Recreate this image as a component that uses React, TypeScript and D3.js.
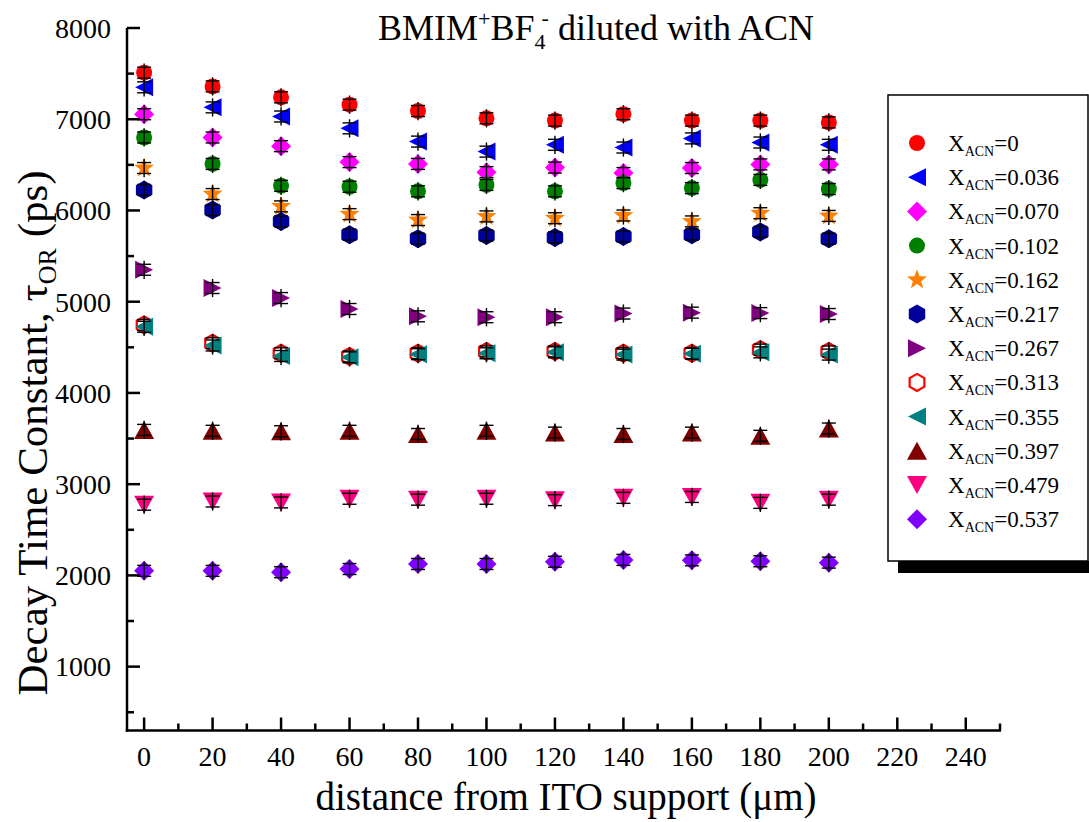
import React from 'react';
import * as d3 from 'd3';

const distances = [0, 20, 40, 60, 80, 100, 120, 140, 160, 180, 200];
const xAcnLabels = ['0', '0.036', '0.070', '0.102', '0.162', '0.217', '0.267', '0.313', '0.355', '0.397', '0.479', '0.537'];

const tauX0 = [7510, 7360, 7240, 7160, 7090, 7010, 6985, 7055, 6985, 6985, 6965];
const tauX036 = [7350, 7130, 7030, 6900, 6755, 6645, 6720, 6690, 6790, 6745, 6720];
const tauX070 = [7055, 6800, 6705, 6530, 6510, 6420, 6470, 6410, 6465, 6505, 6505];
const tauX102 = [6800, 6510, 6270, 6260, 6210, 6280, 6210, 6300, 6245, 6335, 6235];
const tauX162 = [6465, 6180, 6045, 5960, 5895, 5935, 5915, 5945, 5880, 5970, 5940];
const tauX217 = [6225, 6005, 5880, 5735, 5690, 5725, 5705, 5715, 5735, 5765, 5690];
const tauX267 = [5350, 5150, 5040, 4920, 4840, 4830, 4830, 4870, 4880, 4875, 4865];
const tauX313 = [4745, 4545, 4435, 4400, 4435, 4455, 4455, 4435, 4435, 4475, 4455];
const tauX355 = [4725, 4520, 4405, 4390, 4425, 4435, 4445, 4420, 4430, 4445, 4420];
const tauX397 = [3595, 3585, 3580, 3585, 3550, 3585, 3565, 3550, 3565, 3530, 3610];
const tauX479 = [2775, 2810, 2800, 2840, 2830, 2840, 2825, 2850, 2860, 2795, 2830];
const tauX537 = [2050, 2050, 2035, 2070, 2125, 2125, 2150, 2170, 2165, 2155, 2140];

const errCap = 60;
const errStem = 100;

const xTicksMajor = [0, 20, 40, 60, 80, 100, 120, 140, 160, 180, 200, 220, 240];
const xTicksMinor = [10, 30, 50, 70, 90, 110, 130, 150, 170, 190, 210, 230, 250];
const yTicksMajor = [1000, 2000, 3000, 4000, 5000, 6000, 7000, 8000];
const yTicksMinor = [500, 1500, 2500, 3500, 4500, 5500, 6500, 7500];

const seriesValues = [tauX0, tauX036, tauX070, tauX102, tauX162, tauX217, tauX267, tauX313, tauX355, tauX397, tauX479, tauX537];
const seriesShapes = ['circle', 'triLeft', 'diamond', 'circle', 'star', 'hexagon', 'triRight', 'hexOpen', 'triLeft', 'triUp', 'triDown', 'diamond'];
const seriesColors = ['#FF0000', '#0000FF', '#FF00FF', '#008000', '#FF8000', '#00009A', '#800080', '#FF0000', '#008080', '#800000', '#FF0080', '#8000FF'];

const FONT = '"Liberation Serif", "Times New Roman", serif';

const x = d3.scaleLinear().domain([-5, 250]).range([127, 1000]);
const y = d3.scaleLinear().domain([300, 8000]).range([730.5, 28]);

function markerPath(shape: string): string {
  const r = 9;
  switch (shape) {
    case 'circle':
      return d3.symbol(d3.symbolCircle, Math.PI * 8 * 8)() as string;
    case 'triLeft':
      return `M${-r},0L${r},${-r}L${r},${r}Z`;
    case 'triRight':
      return `M${r},0L${-r},${-r}L${-r},${r}Z`;
    case 'triUp':
      return `M0,${-r}L${r + 1},${r}L${-r - 1},${r}Z`;
    case 'triDown':
      return `M0,${r}L${r + 1},${-r}L${-r - 1},${-r}Z`;
    case 'diamond':
      return `M0,-10L10,0L0,10L-10,0Z`;
    case 'star': {
      const pts: string[] = [];
      for (let i = 0; i < 10; i++) {
        const rad = i % 2 === 0 ? 10.5 : 4.3;
        const a = -Math.PI / 2 + (i * Math.PI) / 5;
        pts.push(`${(rad * Math.cos(a)).toFixed(2)},${(rad * Math.sin(a)).toFixed(2)}`);
      }
      return 'M' + pts.join('L') + 'Z';
    }
    case 'hexagon':
    case 'hexOpen': {
      const rr = shape === 'hexOpen' ? 8.5 : 9.5;
      const pts: string[] = [];
      for (let i = 0; i < 6; i++) {
        const a = -Math.PI / 2 + (i * Math.PI) / 3;
        pts.push(`${(rr * Math.cos(a)).toFixed(2)},${(rr * Math.sin(a)).toFixed(2)}`);
      }
      return 'M' + pts.join('L') + 'Z';
    }
  }
  return '';
}

function Marker({ shape, color, cx, cy }: { shape: string; color: string; cx: number; cy: number }) {
  const open = shape === 'hexOpen';
  return (
    <path
      d={markerPath(shape)}
      transform={`translate(${cx},${cy})`}
      fill={open ? 'none' : color}
      stroke={open ? color : 'none'}
      strokeWidth={open ? 2.2 : 0}
    />
  );
}

export default function App() {
  const W = 1089;
  const H = 822;
  const y0 = y(300);
  const x0 = x(-5);
  const legendX = 888;
  const legendY = 95;
  const rowH = 34.2;

  return (
    <svg width={W} height={H} style={{ position: 'absolute', left: 0, top: 0, background: '#fff' }} fontFamily={FONT}>
      <rect x={0} y={0} width={W} height={H} fill="#fff" />
      {/* data */}
      {seriesValues.map((vals, si) => (
        <g key={si}>
          {vals.map((v, i) => {
            const cx = x(distances[i]);
            const cy = y(v);
            return (
              <g key={i}>
                <Marker shape={seriesShapes[si]} color={seriesColors[si]} cx={cx} cy={cy} />
                <line x1={cx} x2={cx} y1={y(v - errStem)} y2={y(v + errStem)} stroke="#000" strokeWidth={1.4} />
                <line x1={cx - 7} x2={cx + 7} y1={y(v - errCap)} y2={y(v - errCap)} stroke="#000" strokeWidth={1.4} />
                <line x1={cx - 7} x2={cx + 7} y1={y(v + errCap)} y2={y(v + errCap)} stroke="#000" strokeWidth={1.4} />
              </g>
            );
          })}
        </g>
      ))}

      {/* axes */}
      <line x1={x0} x2={x0} y1={y(8000)} y2={y0 + 1.2} stroke="#000" strokeWidth={2.5} />
      <line x1={x0 - 1.2} x2={x(250) + 1} y1={y0} y2={y0} stroke="#000" strokeWidth={2.5} />
      {yTicksMajor.map((t) => (
        <g key={'ym' + t}>
          <line x1={x0} x2={x0 + 13} y1={y(t)} y2={y(t)} stroke="#000" strokeWidth={2.5} />
          <text x={111} y={y(t)} dy="0.35em" textAnchor="end" fontSize={28}>{t}</text>
        </g>
      ))}
      {yTicksMinor.map((t) => (
        <line key={'yn' + t} x1={x0} x2={x0 + 7} y1={y(t)} y2={y(t)} stroke="#000" strokeWidth={2.5} />
      ))}
      {xTicksMajor.map((t) => (
        <g key={'xm' + t}>
          <line x1={x(t)} x2={x(t)} y1={y0} y2={y0 - 13} stroke="#000" strokeWidth={2.5} />
          <text x={x(t)} y={766} textAnchor="middle" fontSize={28}>{t}</text>
        </g>
      ))}
      {xTicksMinor.map((t) => (
        <line key={'xn' + t} x1={x(t)} x2={x(t)} y1={y0} y2={y0 - 7} stroke="#000" strokeWidth={2.5} />
      ))}

      {/* axis titles */}
      <text x={566} y={810} textAnchor="middle" fontSize={39}>distance from ITO support (μm)</text>
      <text transform="translate(47,433) rotate(-90)" textAnchor="middle" fontSize={43}>
        Decay Time Constant, τ<tspan fontSize={26} dy={9}>OR</tspan><tspan dy={-9}> (ps)</tspan>
      </text>

      {/* title */}
      <text x={596} y={40} textAnchor="middle" fontSize={36}>
        BMIM<tspan fontSize={22} dy={-14}>+</tspan><tspan dy={14}>BF</tspan><tspan fontSize={22} dy={9}>4</tspan><tspan fontSize={22} dx={-4} dy={-24}>-</tspan><tspan dy={15}> diluted with ACN</tspan>
      </text>

      {/* legend */}
      <rect x={legendX + 10} y={561} width={W - legendX - 10} height={12} fill="#000" />
      <rect x={legendX} y={legendY} width={200} height={466} fill="#fff" stroke="#000" strokeWidth={1.5} />
      {xAcnLabels.map((lab, i) => {
        const cy = 143 + i * rowH;
        return (
          <g key={'lg' + i}>
            <Marker shape={seriesShapes[i]} color={seriesColors[i]} cx={917} cy={cy} />
            <text x={948} y={cy} dy="0.35em" fontSize={23}>
              X<tspan fontSize={14} dy={5}>ACN</tspan><tspan dy={-5}>={lab}</tspan>
            </text>
          </g>
        );
      })}
    </svg>
  );
}
